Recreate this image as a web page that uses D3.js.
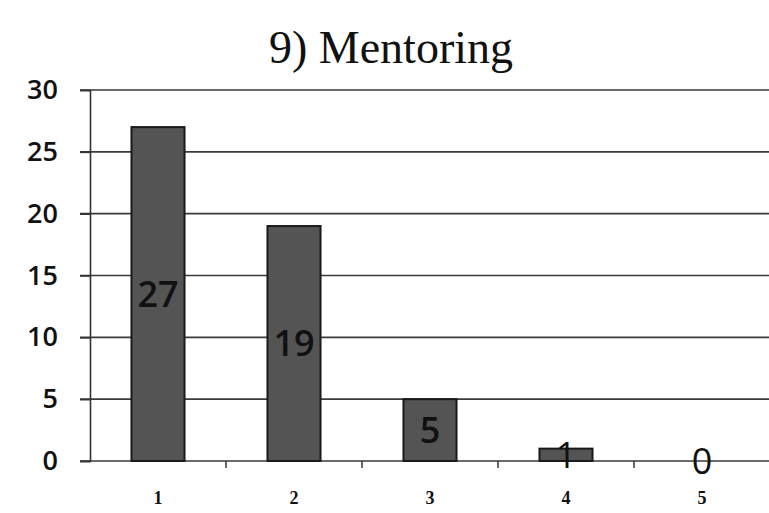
<!DOCTYPE html>
<html><head><meta charset="utf-8">
<script src="https://cdn.jsdelivr.net/npm/d3@7"></script>
<style>body{margin:0;background:#fff}svg{display:block}</style>
</head><body>
<script>
const title = "9) Mentoring";
const categories = ["1","2","3","4","5"];
const values = [27, 19, 5, 1, 0];
const yTicks = [0, 5, 10, 15, 20, 25, 30];

const W = 769, H = 513;
const svg = d3.select("body").append("svg").attr("width", W).attr("height", H);
const x = d3.scaleBand().domain(categories).range([90, 770]).paddingInner(0.61).paddingOuter(0.305);
const y = d3.scaleLinear().domain([0, 30]).range([461, 90]);

svg.append("text").attr("x", 391).attr("y", 63).attr("text-anchor", "middle")
  .attr("font-family", "Liberation Serif, serif").attr("font-size", 46).attr("fill", "#111").text(title);

// gridlines
svg.append("g").selectAll("line").data(yTicks).join("line")
  .attr("x1", 80).attr("x2", W).attr("y1", d => y(d)).attr("y2", d => y(d))
  .attr("stroke", "#3a3a3a").attr("stroke-width", 1.6);

// y axis
const ya = svg.append("g").attr("transform", "translate(90,0)")
  .call(d3.axisLeft(y).tickValues(yTicks).tickSize(10).tickPadding(22));
ya.select(".domain").attr("stroke", "#333").attr("stroke-width", 1.6);
ya.selectAll(".tick line").attr("stroke", "#333").attr("stroke-width", 1.6);
ya.selectAll("text").attr("font-family", "Open Sans, sans-serif").attr("font-weight", 600)
  .attr("font-size", 27).attr("fill", "#111");

// x axis
const xa = svg.append("g").attr("transform", "translate(0,461)")
  .call(d3.axisBottom(x).tickSize(0).tickPadding(30));
xa.select(".domain").remove();
xa.selectAll("text").attr("font-family", "Liberation Serif, serif").attr("font-weight", "bold")
  .attr("font-size", 18).attr("fill", "#111");
// category separator ticks
svg.append("g").selectAll("line").data(categories.slice(1)).join("line")
  .attr("x1", d => x(d) - x.step() * x.paddingInner() / 2)
  .attr("x2", d => x(d) - x.step() * x.paddingInner() / 2)
  .attr("y1", 461).attr("y2", 468).attr("stroke", "#333").attr("stroke-width", 1.5);

// bars
svg.append("g").selectAll("rect").data(values).join("rect")
  .attr("x", (d, i) => x(categories[i])).attr("width", x.bandwidth())
  .attr("y", d => y(d)).attr("height", d => y(0) - y(d))
  .attr("fill", "#545454").attr("stroke", "#1a1a1a").attr("stroke-width", 2);

// value labels
svg.append("g").selectAll("text").data(values).join("text")
  .attr("x", (d, i) => x(categories[i]) + x.bandwidth() / 2)
  .attr("y", d => (y(d) + y(0)) / 2)
  .attr("dy", "0.36em").attr("text-anchor", "middle")
  .attr("font-family", "Open Sans, sans-serif").attr("font-size", 36).attr("font-weight", d => d > 1 ? 600 : 400)
  .attr("fill", "#111").text(d => d);
</script>
</body></html>
